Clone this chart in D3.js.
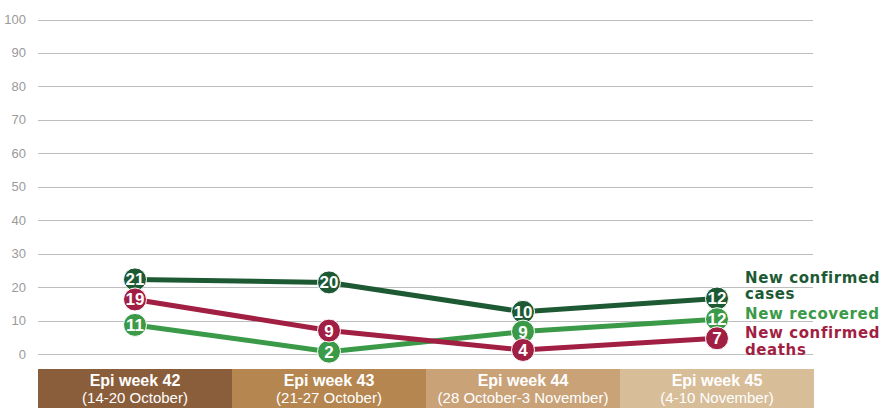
<!DOCTYPE html>
<html>
  <head>
    <meta charset="utf-8">
    <title>Epi weeks 42-45</title>
    <style>
      body { margin: 0; background: #fff; }
      .grid line { stroke: #bdbdbd; stroke-width: 1px; }
      .tick-label { font: 13px "Liberation Sans Narrow", "Liberation Sans", sans-serif; fill: #9a9a9a; }
      .pt-label { font: bold 17px "Liberation Sans Narrow", "Liberation Sans", sans-serif; fill: #fff; }
      .legend { font: bold 15px "DejaVu Sans", sans-serif; letter-spacing: 0.6px; }
      .band-title { font: bold 16px "Liberation Sans", sans-serif; fill: #fff; }
      .band-sub { font: 15px "Liberation Sans", sans-serif; fill: #fff; }
    </style>
  </head>
  <body>
    <div id="chart"></div>
    <script src="https://d3js.org/d3.v7.min.js"></script>
    <script>
      // Categories
      const weeks = ["Epi week 42", "Epi week 43", "Epi week 44", "Epi week 45"];
      const weekDates = ["(14-20 October)", "(21-27 October)", "(28 October-3 November)", "(4-10 November)"];
      const bandColors = ["#8a5e3b", "#b5864f", "#c9a278", "#d8bd99"];

      // Printed values on each marker
      const confirmedLabels = [21, 20, 10, 12];
      const recoveredLabels = [11, 2, 9, 12];
      const deathsLabels = [19, 9, 4, 7];

      // Heights of the markers as they sit on the axis in the source
      const confirmedPlot = [22.3, 21.4, 12.6, 16.6];
      const recoveredPlot = [8.7, 0.7, 6.7, 10.4];
      const deathsPlot = [16.3, 7.0, 1.2, 4.7];

      const yTicks = d3.range(0, 101, 10);

      const width = 880, height = 408;
      const svg = d3.select("#chart").append("svg")
          .attr("width", width).attr("height", height);

      const x = d3.scaleBand().domain(weeks).range([38, 814]).padding(0);
      const y = d3.scaleLinear().domain([0, 100]).range([354, 19.5]);
      const cx = d => x(d) + x.bandwidth() / 2;

      // grid + tick labels
      const grid = svg.append("g").attr("class", "grid");
      grid.selectAll("line").data(yTicks).enter().append("line")
          .attr("x1", 38).attr("x2", 813)
          .attr("y1", d => Math.round(y(d)) + 0.5).attr("y2", d => Math.round(y(d)) + 0.5);
      svg.selectAll(".tick-label").data(yTicks).enter().append("text")
          .attr("class", "tick-label")
          .attr("x", 26).attr("y", d => y(d) + 4.5)
          .attr("text-anchor", "end")
          .text(d => d);

      // week bands along the bottom
      const band = svg.selectAll(".band").data(weeks).enter().append("g").attr("class", "band");
      band.append("rect")
          .attr("x", d => x(d)).attr("y", 369)
          .attr("width", x.bandwidth()).attr("height", 39)
          .attr("fill", (d, i) => bandColors[i]);
      band.append("text").attr("class", "band-title")
          .attr("x", cx).attr("y", 386).attr("text-anchor", "middle")
          .text(d => d);
      band.append("text").attr("class", "band-sub")
          .attr("x", cx).attr("y", 403).attr("text-anchor", "middle")
          .text((d, i) => weekDates[i]);

      // series, drawn bottom to top
      const series = [
        { name: "confirmed", plot: confirmedPlot, labels: confirmedLabels, color: "#1d5a34" },
        { name: "recovered", plot: recoveredPlot, labels: recoveredLabels, color: "#3a9a48" },
        { name: "deaths", plot: deathsPlot, labels: deathsLabels, color: "#a21f44" }
      ];

      const line = d3.line().x(d => cx(d.week)).y(d => y(d.v));

      series.forEach(s => {
        const pts = weeks.map((w, i) => ({ week: w, v: s.plot[i], label: s.labels[i] }));
        const g = svg.append("g");
        g.append("path").datum(pts)
            .attr("d", line)
            .attr("fill", "none")
            .attr("stroke", s.color)
            .attr("stroke-width", 5)
            .attr("stroke-linejoin", "round");
        g.selectAll("circle").data(pts).enter().append("circle")
            .attr("cx", d => cx(d.week)).attr("cy", d => y(d.v))
            .attr("r", 11.5)
            .attr("fill", s.color)
            .attr("stroke", "#fff").attr("stroke-width", 1);
        g.selectAll("text").data(pts).enter().append("text")
            .attr("class", "pt-label")
            .attr("x", d => cx(d.week)).attr("y", d => y(d.v) + 6)
            .attr("text-anchor", "middle")
            .text(d => d.label);
      });

      // legend on the right
      const legend = [
        { lines: ["New confirmed", "cases"], color: "#1d5a34", y: [282.5, 299] },
        { lines: ["New recovered"], color: "#3a9a48", y: [318.5] },
        { lines: ["New confirmed", "deaths"], color: "#a21f44", y: [337.5, 355] }
      ];
      legend.forEach(l => {
        l.lines.forEach((t, i) => {
          svg.append("text").attr("class", "legend")
              .attr("x", 745).attr("y", l.y[i])
              .attr("fill", l.color)
              .text(t);
        });
      });
    </script>
  </body>
</html>
